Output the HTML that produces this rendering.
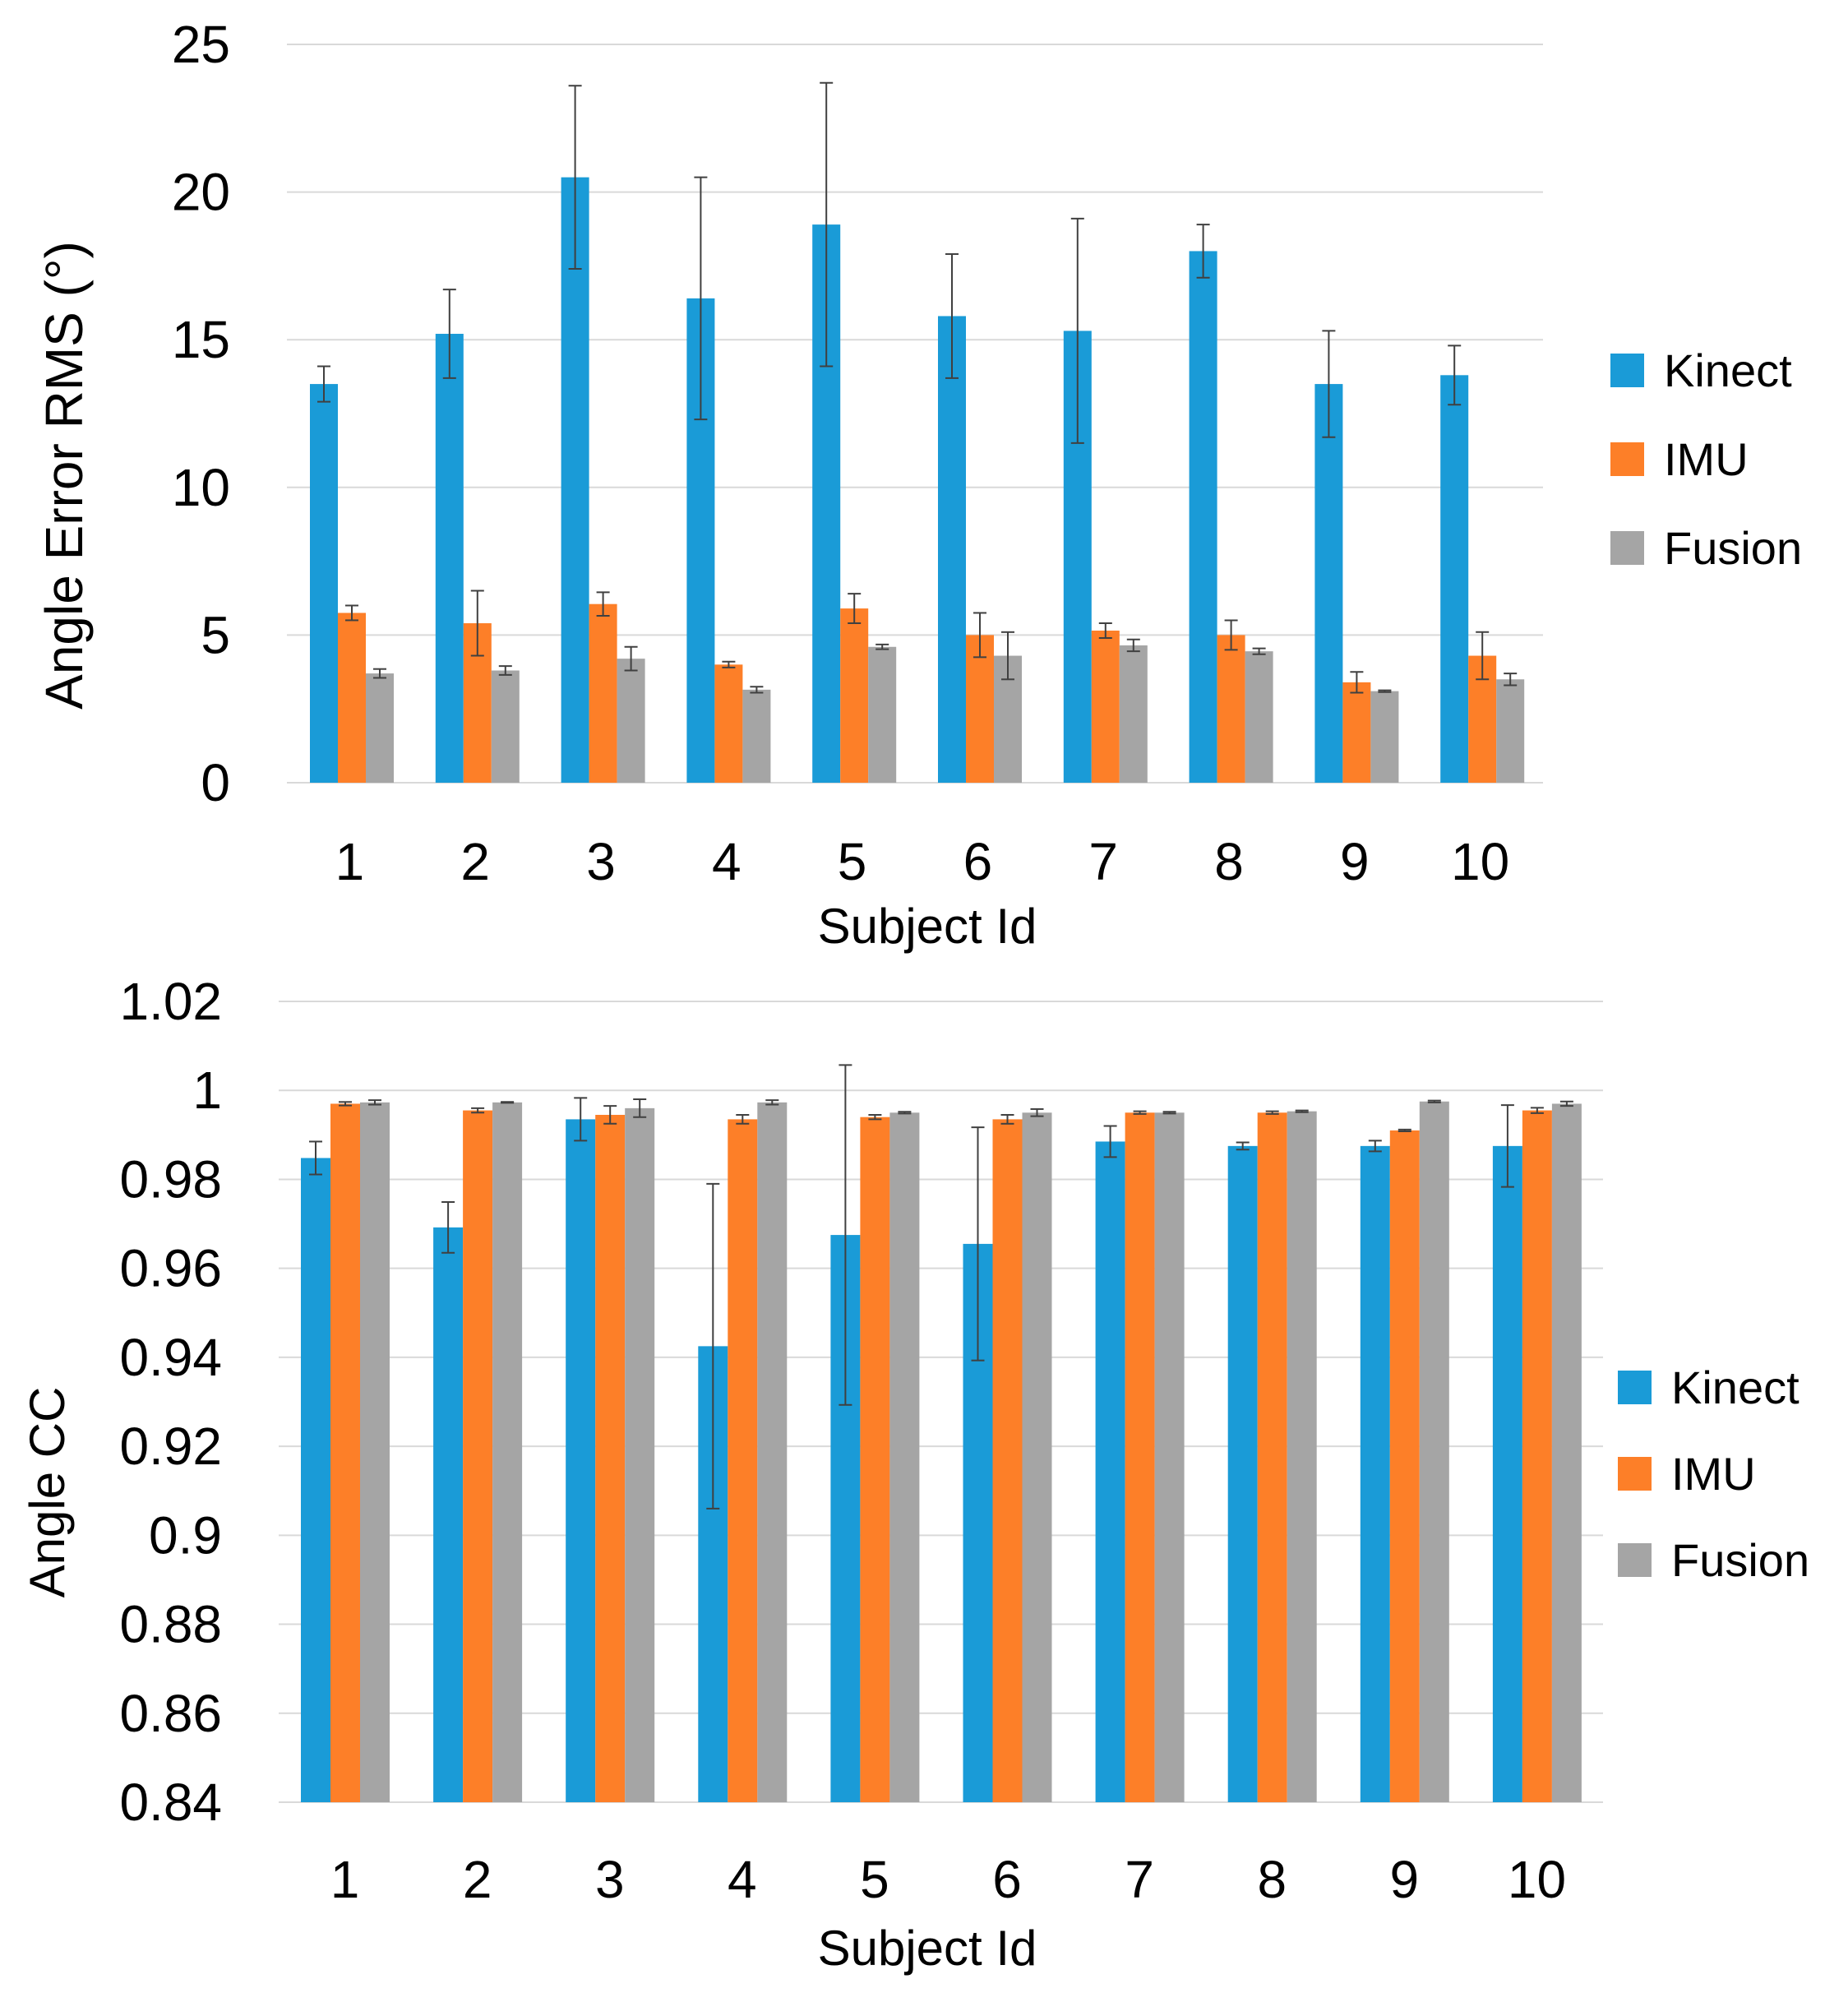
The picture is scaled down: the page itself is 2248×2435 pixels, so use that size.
<!DOCTYPE html>
<html><head><meta charset="utf-8"><style>
html,body{margin:0;padding:0;background:#fff;}
svg{display:block;font-family:"Liberation Sans",sans-serif;}
</style></head><body>
<svg id="chart" width="2248" height="2435" viewBox="0 0 2248 2435" xmlns="http://www.w3.org/2000/svg"></svg>
<script>
const subjects=["1","2","3","4","5","6","7","8","9","10"];
const seriesNames=["Kinect","IMU","Fusion"];
const colors=["#1a9bd7","#fd7f28","#a5a5a5"];
const rmsKinect=[13.5,15.2,20.5,16.4,18.9,15.8,15.3,18.0,13.5,13.8];
const rmsKinectErr=[0.6,1.5,3.1,4.1,4.8,2.1,3.8,0.9,1.8,1.0];
const rmsImu=[5.75,5.4,6.05,4.0,5.9,5.0,5.15,5.0,3.4,4.3];
const rmsImuErr=[0.25,1.1,0.4,0.1,0.5,0.75,0.25,0.5,0.35,0.8];
const rmsFusion=[3.7,3.8,4.2,3.15,4.6,4.3,4.65,4.45,3.1,3.5];
const rmsFusionErr=[0.15,0.15,0.4,0.1,0.08,0.8,0.2,0.1,0.03,0.2];
const rmsTicks=["0","5","10","15","20","25"];
const ccKinect=[0.9848,0.9692,0.9935,0.9425,0.9675,0.9655,0.9885,0.9875,0.9875,0.9875];
const ccKinectErr=[0.0037,0.0057,0.0048,0.0365,0.0382,0.0262,0.0035,0.0008,0.0012,0.0092];
const ccImu=[0.997,0.9955,0.9945,0.9935,0.994,0.9935,0.995,0.995,0.991,0.9955];
const ccImuErr=[0.0004,0.0005,0.002,0.001,0.0005,0.001,0.0003,0.0003,0.0002,0.0006];
const ccFusion=[0.9973,0.9973,0.996,0.9973,0.995,0.995,0.995,0.9953,0.9975,0.997];
const ccFusionErr=[0.0005,0.0001,0.002,0.0005,0.0002,0.0008,0.0002,0.0002,0.0002,0.0005];
const ccTicks=["0.84","0.86","0.88","0.9","0.92","0.94","0.96","0.98","1","1.02"];

const svg=document.getElementById('chart');
const NS="http://www.w3.org/2000/svg";
function mk(tag,attrs,parent){const e=document.createElementNS(NS,tag);for(const k in attrs)e.setAttribute(k,attrs[k]);(parent||svg).appendChild(e);return e;}

function drawChart(cfg){
  const g=mk('g',{});
  
  
  const y=v=>cfg.y0-(v-cfg.vmin)/(cfg.vmax-cfg.vmin)*(cfg.y0-cfg.y1);
  const gw=(cfg.x1-cfg.x0)/subjects.length;
  cfg.ticks.forEach(t=>{
    const v=parseFloat(t);
    const gl=mk('line',{x1:cfg.x0,x2:cfg.x1,y1:y(v),y2:y(v),stroke:'#d9d9d9','stroke-width':2},g);
    
    
    const tl=mk('text',{x:cfg.tickX,y:y(v)+22,'text-anchor':'end','font-size':64,fill:'#000'},g);
    tl.textContent=t;
    
    
  });
  subjects.forEach((s,i)=>{
    const gx=cfg.x0+i*gw;
    cfg.series.forEach((ser,j)=>{
      const bx=gx+cfg.off+j*cfg.bw;
      const v=ser.vals[i],e=ser.errs[i];
      const r=mk('rect',{x:bx,y:y(v),width:cfg.bw,height:y(cfg.vmin)-y(v),fill:colors[j]},g);
      
      
      const cx=bx+cfg.bw/2;
      const eg=mk('g',{stroke:'#404040','stroke-width':2},g);
      
      
      mk('line',{x1:cx,x2:cx,y1:y(v+e),y2:y(v-e)},eg);
      mk('line',{x1:cx-8,x2:cx+8,y1:y(v+e),y2:y(v+e)},eg);
      mk('line',{x1:cx-8,x2:cx+8,y1:y(v-e),y2:y(v-e)},eg);
    });
    const xl=mk('text',{x:gx+gw/2,y:cfg.xlabY,'text-anchor':'middle','font-size':64,fill:'#000'},g);
    xl.textContent=s;
    
    
  });
  const xt=mk('text',{x:cfg.xtitleX,y:cfg.xtitleY,'text-anchor':'middle','font-size':60,fill:'#000'},g);
  xt.textContent='Subject Id';
  
  
  const yt=mk('text',{x:0,y:0,'text-anchor':'middle','font-size':cfg.ytSize,fill:'#000',transform:`translate(${cfg.ytX},${cfg.ytY}) rotate(-90)`},g);
  yt.textContent=cfg.ytitle;
  
  
  seriesNames.forEach((n,j)=>{
    const ly=cfg.legY+j*cfg.legGap;
    const lg=mk('g',{},g);
    
    
    mk('rect',{x:cfg.legX,y:ly,width:41,height:41,fill:colors[j]},lg);
    const lt=mk('text',{x:cfg.legX+65,y:ly+40,'font-size':56,fill:'#000'},lg);
    lt.textContent=n;
  });
}
drawChart({name:'rms-chart',y0:952,y1:54,vmin:0,vmax:25,x0:349,x1:1877,off:28,bw:34,ticks:rmsTicks,tickX:280,
  series:[{vals:rmsKinect,errs:rmsKinectErr},{vals:rmsImu,errs:rmsImuErr},{vals:rmsFusion,errs:rmsFusionErr}],
  xlabY:1070,xtitleX:1128,xtitleY:1147,ytitle:'Angle Error RMS (°)',ytSize:64,ytX:100,ytY:578,legX:1959,legY:430,legGap:108});
drawChart({name:'cc-chart',y0:2192,y1:1218,vmin:0.84,vmax:1.02,x0:339,x1:1950,off:27,bw:36,ticks:ccTicks,tickX:270,
  series:[{vals:ccKinect,errs:ccKinectErr},{vals:ccImu,errs:ccImuErr},{vals:ccFusion,errs:ccFusionErr}],
  xlabY:2308,xtitleX:1128,xtitleY:2390,ytitle:'Angle CC',ytSize:60,ytX:78,ytY:1815,legX:1968,legY:1667,legGap:105});
</script>
</body></html>
